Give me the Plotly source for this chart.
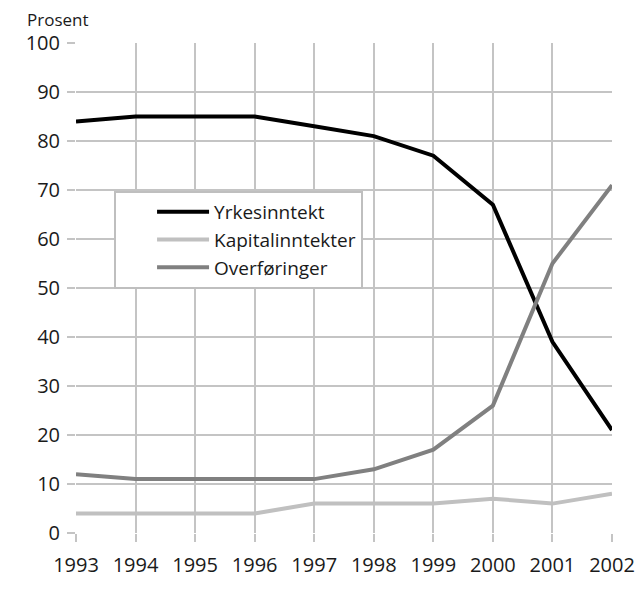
import plotly.graph_objects as go

years = [1993, 1994, 1995, 1996, 1997, 1998, 1999, 2000, 2001, 2002]
yrkesinntekt = [84, 85, 85, 85, 83, 81, 77, 67, 39, 21]
kapitalinntekter = [4, 4, 4, 4, 6, 6, 6, 7, 6, 8]
overforinger = [12, 11, 11, 11, 11, 13, 17, 26, 55, 71]

series = [
    ("Yrkesinntekt", yrkesinntekt, "#000000"),
    ("Kapitalinntekter", kapitalinntekter, "#c0c0c0"),
    ("Overføringer", overforinger, "#808080"),
]

fig = go.Figure()
for name, vals, color in series:
    fig.add_trace(go.Scatter(
        x=years, y=vals, name=name, mode="lines", legendgroup=name,
        line=dict(color=color, width=4),
    ))

grid = "#c4c4c4"
fig.update_layout(
    width=637, height=596,
    margin=dict(l=76, r=25, t=43, b=63, autoexpand=False),
    paper_bgcolor="white", plot_bgcolor="white",
    font=dict(family="Open Sans", size=19, color="#1a1a1a"),
    showlegend=True,
    legend=dict(
        x=0.071, y=0.698, xanchor="left", yanchor="top",
        bgcolor="white", bordercolor="#bfbfbf", borderwidth=2,
        font=dict(size=19), tracegroupgap=0,
        indentation=36, itemwidth=52,
    ),
    annotations=[dict(
        text="Prosent", xref="paper", yref="paper", x=-0.095, y=1,
        xanchor="left", yanchor="bottom", yshift=10, showarrow=False,
        font=dict(size=17),
    )],
)
fig.update_xaxes(
    range=[1993, 2002], tickvals=years, showgrid=True, gridcolor=grid, gridwidth=2,
    ticks="outside", ticklen=8, tickwidth=2, tickcolor=grid,
    zeroline=False, showline=False, tickfont=dict(size=20),
    ticklabelstandoff=6, automargin=False,
)
fig.update_yaxes(
    range=[0, 100], dtick=10, showgrid=True, gridcolor=grid, gridwidth=2,
    ticks="outside", ticklen=8, tickwidth=2, tickcolor=grid,
    zeroline=False, showline=False, tickfont=dict(size=20),
    ticklabelstandoff=3, automargin=False,
)

# drop the default page margin so the figure fills the window exactly
fig.write_html(
    "out.html",
    config={"displayModeBar": False},
    post_script="document.body.style.margin='0';document.body.style.overflow='hidden';",
)
